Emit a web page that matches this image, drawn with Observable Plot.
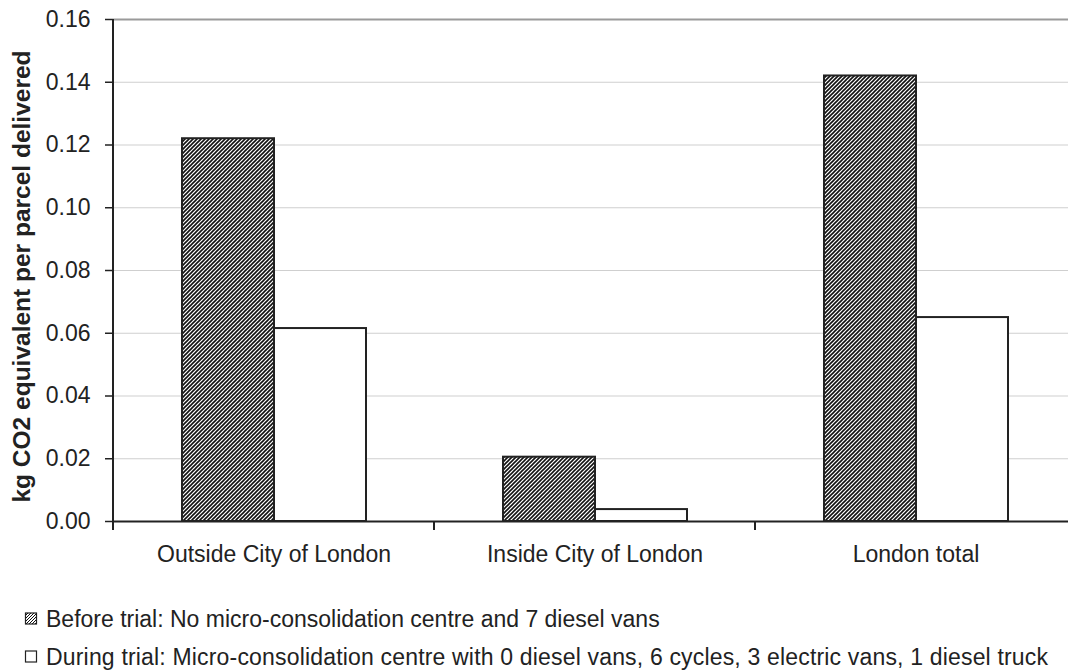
<!DOCTYPE html>
<html>
<head>
<meta charset="utf-8">
<script src="https://cdn.jsdelivr.net/npm/d3@7"></script>
<script src="https://cdn.jsdelivr.net/npm/@observablehq/plot@0.6"></script>
<style>
html, body { margin: 0; padding: 0; background: #fff; overflow: hidden; }
body { position: relative; width: 1068px; height: 670px; font-family: "Liberation Sans", Arial, sans-serif; }
#legend { position: absolute; left: 0; top: 590px; }
</style>
</head>
<body>
<div id="chart"></div>
<svg id="legend" width="1068" height="80"></svg>
<script>
const categories = ["Outside City of London", "Inside City of London", "London total"];
const seriesKeys = ["Before", "During"];
const seriesLabels = [
  "Before trial: No micro-consolidation centre and 7 diesel vans",
  "During trial: Micro-consolidation centre with 0 diesel vans, 6 cycles, 3 electric vans, 1 diesel truck"
];
const beforeValues = [0.122, 0.0205, 0.142];
const duringValues = [0.0615, 0.0038, 0.065];
const yTicks = [0, 0.02, 0.04, 0.06, 0.08, 0.10, 0.12, 0.14, 0.16];
const yTitle = "kg CO2 equivalent per parcel delivered";

const data = categories.flatMap((c, i) => [
  {category: c, key: seriesKeys[0], value: beforeValues[i]},
  {category: c, key: seriesKeys[1], value: duringValues[i]}
]);

const FONT = "Liberation Sans, Arial, sans-serif";

const plot = Plot.plot({
  width: 1076,
  height: 590,
  marginLeft: 113,
  marginRight: 0,
  marginTop: 19,
  marginBottom: 69,
  style: {fontFamily: FONT, fontSize: "23px", color: "#222", background: "#fff", maxWidth: "none", overflow: "visible"},
  fx: {domain: categories, padding: 0, label: null},
  x: {domain: seriesKeys, paddingInner: 0, paddingOuter: 0.726, axis: null},
  y: {domain: [0, 0.16], label: yTitle},
  marks: [
    Plot.ruleY(yTicks.slice(1, -1), {stroke: "#cfcfcf", strokeWidth: 1}),
    Plot.ruleY([yTicks[yTicks.length - 1]], {stroke: "#9a9a9a", strokeWidth: 2}),
    Plot.barY(data.filter(d => d.key === seriesKeys[0]), {fx: "category", x: "key", y: "value", fill: "url(#hatch)", stroke: "#222", strokeWidth: 2}),
    Plot.barY(data.filter(d => d.key === seriesKeys[1]), {fx: "category", x: "key", y: "value", fill: "#fff", stroke: "#222", strokeWidth: 2}),
    Plot.ruleY([0], {stroke: "#222", strokeWidth: 2}),
    Plot.axisY({ticks: yTicks, tickSize: 8, tickPadding: 15, tickFormat: d3.format(".2f"), stroke: "#222", strokeWidth: 1.5, fontSize: 23, fill: "#222",
      label: yTitle, labelAnchor: "center", labelArrow: "none", labelOffset: 101}),
    Plot.axisFx({anchor: "bottom", tickSize: 0, tickPadding: 24, fontSize: 23, fill: "#222", label: null})
  ]
});

document.getElementById("chart").appendChild(plot);

const svg = d3.select(plot);
// hatch pattern
const defs = svg.insert("defs", ":first-child");
const pat = defs.append("pattern").attr("id", "hatch").attr("patternUnits", "userSpaceOnUse")
  .attr("width", 4).attr("height", 4);
pat.append("rect").attr("width", 4).attr("height", 4).attr("fill", "#fff");
pat.append("path").attr("d", "M-1,1 l2,-2 M0,4 l4,-4 M3,5 l2,-2").attr("stroke", "#111").attr("stroke-width", 1.6);

// bold y title
const yLabel = svg.selectAll('[aria-label="y-axis label"]');
yLabel.style("font-weight", "bold").attr("font-weight", "bold").attr("font-size", 24.5);
yLabel.selectAll("text").style("font-weight", "bold").attr("font-size", 24.5).attr("dx", -6);

// y axis line and category boundary ticks, from library scales
const fx = plot.scale("fx");
const y = plot.scale("y");
const bounds = categories.map(c => fx.apply(c)).concat([fx.range[1]]);
const g = svg.append("g").attr("stroke", "#222").attr("stroke-width", 2);
g.append("line").attr("x1", fx.range[0]).attr("x2", fx.range[0])
  .attr("y1", y.apply(yTicks[yTicks.length - 1])).attr("y2", y.apply(0) + 1);
g.selectAll("line.b").data(bounds).join("line").attr("class", "b")
  .attr("x1", d => d).attr("x2", d => d)
  .attr("y1", y.apply(0)).attr("y2", y.apply(0) + 9);

// legend
const lg = d3.select("#legend");
const ldefs = lg.append("defs");
const lp = ldefs.append("pattern").attr("id", "hatch2").attr("patternUnits", "userSpaceOnUse")
  .attr("width", 3).attr("height", 3);
lp.append("rect").attr("width", 3).attr("height", 3).attr("fill", "#fff");
lp.append("path").attr("d", "M-1,1 l2,-2 M0,3 l3,-3 M2,4 l2,-2").attr("stroke", "#111").attr("stroke-width", 1);
const baselines = [37, 75];
seriesLabels.forEach((label, i) => {
  lg.append("rect").attr("x", 25.5).attr("y", baselines[i] - 14).attr("width", 11).attr("height", 11)
    .attr("fill", i === 0 ? "url(#hatch2)" : "#fff").attr("stroke", "#222").attr("stroke-width", 1.2);
  const t = lg.append("text").attr("x", 46).attr("y", baselines[i]).attr("font-family", FONT)
    .attr("font-size", 23).attr("fill", "#222").text(label);
  if (i === 1) t.attr("textLength", 1002).attr("lengthAdjust", "spacing");
});
</script>
</body>
</html>
